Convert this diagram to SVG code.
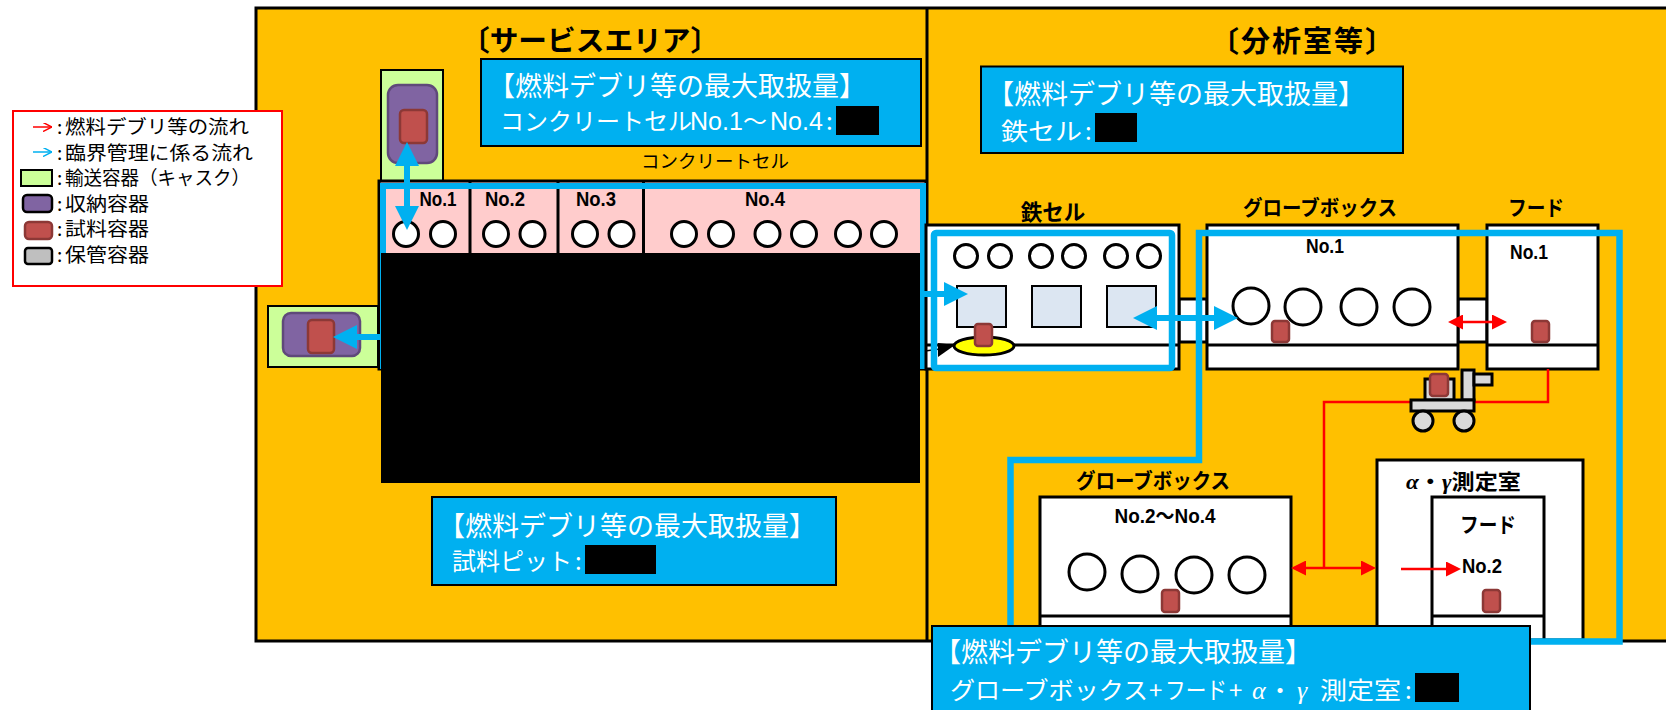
<svg xmlns="http://www.w3.org/2000/svg" width="1666" height="710" viewBox="0 0 1666 710">
<style>
text{font-family:"Noto Sans CJK JP","Liberation Sans",sans-serif;fill:#000}
.b{font-weight:700}
.w{fill:#fff;font-size:27px}
.wt{fill:#fff;font-size:24px}
.wc{fill:#fff;font-size:24px}
.e{fill:#fff;font-family:"Liberation Sans",sans-serif;font-size:25px}
.wg{fill:#fff;font-family:"Liberation Serif",serif;font-style:italic;font-size:26px}
.g{font-family:"Liberation Serif",serif;font-style:italic}
.lt{font-size:19px}
.n{font-family:"Liberation Sans","Noto Sans CJK JP",sans-serif;font-weight:700;font-size:21px;text-anchor:middle}
.box{fill:#fff;stroke:#000;stroke-width:3}
.info{fill:#00b0f0;stroke:#000;stroke-width:2}
.c{fill:#fff;stroke:#000;stroke-width:3}
.s{fill:#c0504d;stroke:#8c3836;stroke-width:2.500}
.p{fill:#8064a2;stroke:#5f497a;stroke-width:2.500}
.cask{fill:#ccff99;stroke:#000;stroke-width:2}
.sq{fill:#dce6f2;stroke:#000;stroke-width:2}
.div{stroke:#000;stroke-width:3;fill:none}
.bl{stroke:#00b0f0;stroke-width:6.500;fill:none}
.ba{stroke:#00b0f0;stroke-width:6;marker-end:url(#bh)}
.ba2{stroke:#00b0f0;stroke-width:6;marker-end:url(#bh);marker-start:url(#bh)}
.rl{stroke:#f00;stroke-width:2.500;fill:none}
.ra{stroke:#f00;stroke-width:2.500;marker-end:url(#rh)}
.ra2{stroke:#f00;stroke-width:2.500;marker-end:url(#rh);marker-start:url(#rh)}
.cart{fill:#d9d9d9;stroke:#000;stroke-width:3}
</style>
<defs>
<marker id="bh" viewBox="0 0 4 4" refX="2" refY="2" markerWidth="4" markerHeight="4" orient="auto-start-reverse"><path d="M0,0L4,2L0,4z" fill="#00b0f0"/></marker>
<marker id="rh" viewBox="0 0 6 6" refX="3" refY="3" markerWidth="6" markerHeight="6" orient="auto-start-reverse"><path d="M0,0L6,3L0,6z" fill="#f00"/></marker>
<marker id="lb" viewBox="0 0 6 6" refX="6" refY="3" markerWidth="6" markerHeight="6" orient="auto"><path d="M0,0L6,3L0,6" fill="none" stroke="#00b0f0"/></marker>
<marker id="lr" viewBox="0 0 6 6" refX="6" refY="3" markerWidth="6" markerHeight="6" orient="auto"><path d="M0,0L6,3L0,6" fill="none" stroke="#f00"/></marker>
</defs>

<g id="areas">
<rect x="256" y="8" width="1412" height="633" fill="#ffc000" stroke="#000" stroke-width="3"/>
<line x1="927" y1="8" x2="927" y2="641" class="div"/>
<text x="461" y="51" class="b" font-size="28.700">〔サービスエリア〕</text>
<text x="1210" y="52" class="b" font-size="29" textLength="184">〔分析室等〕</text>
</g>

<g id="legend">
<rect x="13" y="111" width="269" height="175" fill="#fff" stroke="#f00" stroke-width="2"/>
<line x1="33" y1="127" x2="52" y2="127" stroke="#f00" stroke-width="1.500" marker-end="url(#lr)"/>
<line x1="33" y1="152" x2="52" y2="152" stroke="#00b0f0" stroke-width="1.500" marker-end="url(#lb)"/>
<rect x="21" y="170" width="31" height="16" class="cask"/>
<rect x="23" y="195" width="29" height="17" rx="4" fill="#8064a2" stroke="#000" stroke-width="2.500"/>
<rect x="25" y="222" width="27" height="17" rx="4" class="s"/>
<rect x="25" y="248" width="27" height="16" rx="3" fill="#bfbfbf" stroke="#000" stroke-width="2.500"/>
<text x="57" y="134" class="lt">:</text><text x="65" y="134" class="lt" textLength="184" lengthAdjust="spacingAndGlyphs">燃料デブリ等の流れ</text>
<text x="57" y="159.500" class="lt">:</text><text x="65" y="159.500" class="lt" textLength="188" lengthAdjust="spacingAndGlyphs">臨界管理に係る流れ</text>
<text x="57" y="185" class="lt">:</text><text x="65" y="185" class="lt" textLength="185" lengthAdjust="spacingAndGlyphs">輸送容器（キャスク）</text>
<text x="57" y="210.500" class="lt">:</text><text x="65" y="210.500" class="lt" textLength="84" lengthAdjust="spacingAndGlyphs">収納容器</text>
<text x="57" y="236" class="lt">:</text><text x="65" y="236" class="lt" textLength="84" lengthAdjust="spacingAndGlyphs">試料容器</text>
<text x="57" y="261.500" class="lt">:</text><text x="65" y="261.500" class="lt" textLength="84" lengthAdjust="spacingAndGlyphs">保管容器</text>
</g>

<g id="cask-top">
<rect x="381" y="70" width="62" height="112" class="cask"/>
<rect x="388" y="85" width="49" height="78" rx="10" class="p"/>
<rect x="400" y="110" width="27" height="33" rx="4" class="s"/>
</g>
<g id="cask-left">
<rect x="268" y="306" width="110" height="61" class="cask"/>
<rect x="283" y="313" width="77" height="43" rx="8" class="p"/>
<rect x="308" y="320" width="26" height="33" rx="4" class="s"/>
</g>

<g id="concrete-cell">
<rect x="379" y="181" width="547" height="188" fill="#ffcccc" stroke="#000" stroke-width="3"/>
<path d="M470,181V253M558,181V253M643.500,181V253" class="div"/>
<g class="c">
<circle cx="406" cy="234" r="12.500"/><circle cx="443" cy="234" r="12.500"/>
<circle cx="496" cy="234" r="12.500"/><circle cx="532.500" cy="234" r="12.500"/>
<circle cx="585" cy="234" r="12.500"/><circle cx="621.500" cy="234" r="12.500"/>
<circle cx="684" cy="234" r="12.500"/><circle cx="721" cy="234" r="12.500"/>
<circle cx="767.500" cy="234" r="12.500"/><circle cx="804" cy="234" r="12.500"/>
<circle cx="848" cy="234" r="12.500"/><circle cx="884" cy="234" r="12.500"/>
</g>
<rect x="383" y="186" width="540" height="180" fill="none" stroke="#00b0f0" stroke-width="6"/>
<rect x="381" y="253" width="539" height="230" fill="#000"/>
<text x="438" y="206" class="n" textLength="37" lengthAdjust="spacingAndGlyphs">No.1</text>
<text x="505" y="206" class="n" textLength="40" lengthAdjust="spacingAndGlyphs">No.2</text>
<text x="596" y="206" class="n" textLength="40" lengthAdjust="spacingAndGlyphs">No.3</text>
<text x="765" y="206" class="n" textLength="40" lengthAdjust="spacingAndGlyphs">No.4</text>
<text x="641" y="168" font-size="18.500">コンクリートセル</text>
</g>

<g id="info-service">
<rect x="481" y="59" width="440" height="87" class="info"/>
<text x="488" y="96" class="w">【燃料デブリ等の最大取扱量】</text>
<text x="500" y="130" class="wt">コンクリートセル</text>
<text x="690" y="130" class="e">No.1</text>
<text x="743" y="130" class="wt">～</text>
<text x="770" y="130" class="e">No.4</text>
<text x="826" y="130" class="wc">:</text>
<rect x="836" y="106" width="43" height="29" fill="#000"/>
</g>
<g id="info-analysis">
<rect x="981" y="66.500" width="422" height="86.500" class="info"/>
<text x="987" y="104" class="w">【燃料デブリ等の最大取扱量】</text>
<text x="1001" y="140" class="wt" textLength="81" lengthAdjust="spacingAndGlyphs">鉄セル</text>
<text x="1085" y="140" class="wc">:</text>
<rect x="1095" y="113" width="42" height="29" fill="#000"/>
</g>
<g id="info-pit">
<rect x="432" y="497" width="404" height="88" class="info"/>
<text x="438" y="536" class="w">【燃料デブリ等の最大取扱量】</text>
<text x="452" y="570" class="wt">試料ピット</text>
<text x="575" y="570" class="wc">:</text>
<rect x="585" y="545" width="71" height="29" fill="#000"/>
</g>

<g id="link-boxes">
<rect x="1179" y="299" width="28" height="43" class="box"/>
<rect x="1458" y="299" width="29" height="43" class="box"/>
</g>

<g id="iron-cell">
<text x="1053" y="220" class="b" font-size="21.500" text-anchor="middle">鉄セル</text>
<rect x="926" y="225" width="253" height="144" class="box"/>
<line x1="926" y1="345" x2="1179" y2="345" class="div" stroke-width="2"/>
<g class="c">
<circle cx="966" cy="256" r="11.500"/><circle cx="1000" cy="256" r="11.500"/>
<circle cx="1041" cy="256" r="11.500"/><circle cx="1074" cy="256" r="11.500"/>
<circle cx="1116" cy="256" r="11.500"/><circle cx="1149" cy="256" r="11.500"/>
</g>
<rect x="957" y="286" width="49" height="41" class="sq"/>
<rect x="1032" y="286" width="49" height="41" class="sq"/>
<rect x="1107" y="286" width="49" height="41" class="sq"/>
<ellipse cx="984" cy="346" rx="30" ry="9" fill="#ff0" stroke="#000" stroke-width="3"/>
<line x1="925" y1="351" x2="940" y2="349" stroke="#000" stroke-width="1.500"/>
<path d="M955,345L938,343V357z" fill="#000"/>
<rect x="975" y="324" width="17" height="22" rx="3" class="s"/>
</g>

<g id="glovebox-1">
<rect x="1207" y="225" width="251" height="144" class="box"/>
<line x1="1207" y1="345" x2="1458" y2="345" class="div" stroke-width="2"/>
<text x="1320" y="215" class="b" font-size="21" text-anchor="middle" textLength="154" lengthAdjust="spacingAndGlyphs">グローブボックス</text>
<text x="1325" y="253" class="n" textLength="38" lengthAdjust="spacingAndGlyphs">No.1</text>
<g class="c">
<circle cx="1251" cy="306" r="18"/><circle cx="1303" cy="307" r="18"/>
<circle cx="1359" cy="307" r="18"/><circle cx="1412" cy="307" r="18"/>
</g>
<rect x="1272" y="321" width="17" height="21" rx="3" class="s"/>
</g>

<g id="hood-1">
<rect x="1487" y="225" width="111" height="144" class="box"/>
<line x1="1487" y1="345" x2="1598" y2="345" class="div" stroke-width="2"/>
<text x="1536" y="215" class="b" font-size="21" text-anchor="middle" textLength="56" lengthAdjust="spacingAndGlyphs">フード</text>
<text x="1529" y="259" class="n" textLength="38" lengthAdjust="spacingAndGlyphs">No.1</text>
<rect x="1532" y="321" width="17" height="21" rx="3" class="s"/>
</g>

<g id="glovebox-2">
<rect x="1040" y="497" width="251" height="143" class="box"/>
<line x1="1040" y1="616" x2="1291" y2="616" class="div"/>
<text x="1153" y="488" class="b" font-size="21" text-anchor="middle" textLength="154" lengthAdjust="spacingAndGlyphs">グローブボックス</text>
<text x="1165" y="523" class="n" textLength="101" lengthAdjust="spacingAndGlyphs">No.2～No.4</text>
<g class="c" stroke-width="2">
<circle cx="1087" cy="572" r="18"/><circle cx="1140" cy="574" r="18"/>
<circle cx="1194" cy="575" r="18"/><circle cx="1247" cy="575" r="18"/>
</g>
<rect x="1162" y="590" width="17" height="22" rx="3" class="s"/>
</g>

<g id="measurement-room">
<rect x="1377" y="460" width="206" height="180" class="box"/>
<text x="1406" y="489" class="b" font-size="21" textLength="115" lengthAdjust="spacingAndGlyphs"><tspan class="g">α</tspan>・<tspan class="g">γ</tspan>測定室</text>
</g>
<g id="hood-2">
<rect x="1432" y="497" width="112" height="143" class="box"/>
<line x1="1432" y1="616" x2="1544" y2="616" class="div"/>
<text x="1488" y="532" class="b" font-size="21" text-anchor="middle" textLength="56" lengthAdjust="spacingAndGlyphs">フード</text>
<text x="1482" y="573" class="n" textLength="40" lengthAdjust="spacingAndGlyphs">No.2</text>
<rect x="1483" y="590" width="17" height="22" rx="3" class="s"/>
</g>

<g id="connectors">
<path d="M1010.500,630V460H1199V233H1619.500V641.500H1500" class="bl"/>
<rect x="934" y="233" width="238" height="135" rx="2" class="bl"/>
<line x1="407" y1="154" x2="407" y2="218" class="ba2"/>
<line x1="380" y1="337" x2="345" y2="337" class="ba"/>
<line x1="923" y1="294" x2="956" y2="294" class="ba"/>
<line x1="1145" y1="318" x2="1226" y2="318" class="ba2"/>
<line x1="1455.500" y1="322" x2="1499.500" y2="322" class="ra2"/>
<path d="M1548,369V402H1324V568" class="rl"/>
<line x1="1298.500" y1="568" x2="1368.500" y2="568" class="ra2"/>
<line x1="1401" y1="569" x2="1453.500" y2="569" class="ra"/>
</g>

<g id="cart">
<rect x="1462" y="370" width="12" height="30" class="cart"/>
<rect x="1474" y="374" width="18" height="11" class="cart"/>
<rect x="1425" y="379" width="29" height="21" class="cart"/>
<rect x="1411" y="400" width="63" height="11" class="cart"/>
<circle cx="1423" cy="421" r="10" class="cart"/>
<circle cx="1464" cy="421" r="10" class="cart"/>
<rect x="1430" y="374" width="18" height="22" rx="3" class="s"/>
</g>

<g id="info-lab">
<rect x="932" y="626" width="598" height="90" class="info"/>
<text x="934" y="662" class="w">【燃料デブリ等の最大取扱量】</text>
<text x="950" y="699" class="wt" textLength="198" lengthAdjust="spacingAndGlyphs">グローブボックス</text>
<text x="1149" y="699" class="wt">+</text>
<text x="1165" y="699" class="wt" textLength="62" lengthAdjust="spacingAndGlyphs">フード</text>
<text x="1229" y="699" class="wt">+</text>
<text x="1252" y="699" class="wg">α</text>
<text x="1268" y="699" class="wt">・</text>
<text x="1297" y="699" class="wg">γ</text>
<text x="1320" y="699" class="wt" textLength="81" lengthAdjust="spacingAndGlyphs">測定室</text>
<text x="1405" y="699" class="wc">:</text>
<rect x="1415" y="673" width="44" height="29" fill="#000"/>
</g>
</svg>
